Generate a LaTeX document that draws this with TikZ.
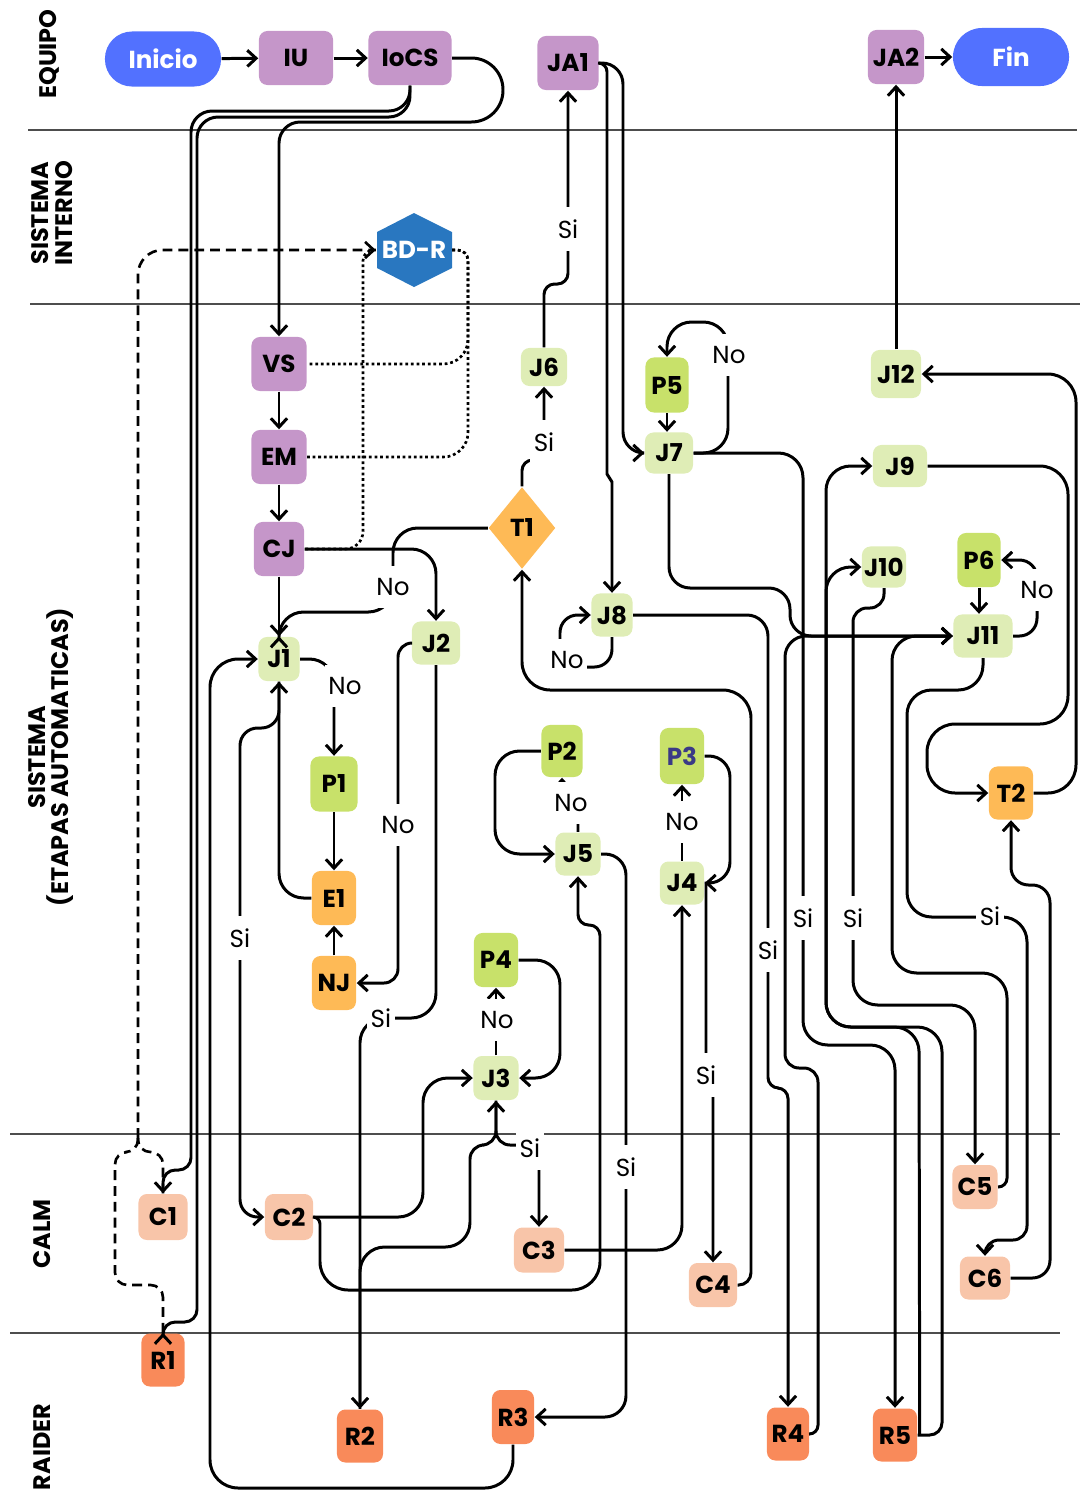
\documentclass[tikz,border=0pt]{standalone}
\usepackage{fontspec}
\setmainfont{Poppins}
\usetikzlibrary{arrows.meta,shapes.geometric}
\definecolor{inicioblue}{HTML}{5271FF}
\definecolor{equipolila}{HTML}{C596C9}
\definecolor{bdblue}{HTML}{2977C0}
\definecolor{jgreen}{HTML}{DFEDB6}
\definecolor{pgreen}{HTML}{C8E16A}
\definecolor{torange}{HTML}{FEBA56}
\definecolor{calmpeach}{HTML}{F8C5A9}
\definecolor{raiderorange}{HTML}{F98A5A}
\definecolor{pnavy}{HTML}{3B3A86}
\definecolor{lanegray}{HTML}{4D4D4D}
\tikzset{
  etapa/.style={rectangle,rounded corners=2.4pt,inner sep=0pt,fill=#1,text=black,
    font=\fontsize{7}{8}\selectfont\bfseries,minimum width=0.44cm,minimum height=0.54cm},
  etapa/.default={jgreen},
  lbox/.style={etapa=equipolila,minimum width=0.55cm},
  jbox/.style={etapa=jgreen,minimum width=0.45cm,minimum height=0.43cm},
  pbox/.style={etapa=pgreen},
  tbox/.style={etapa=torange},
  cbox/.style={etapa=calmpeach,minimum width=0.48cm,minimum height=0.45cm},
  rbox/.style={etapa=raiderorange,minimum height=0.53cm},
  terminal/.style={rectangle,rounded corners=0.27cm,fill=inicioblue,text=white,
    font=\fontsize{7}{8}\selectfont\bfseries,minimum width=1.16cm,minimum height=0.55cm},
  flecha/.style={-{Straight Barb[length=2.5pt,width=4.6pt]}},
  myarrow/.style={flecha,line width=0.85pt,rounded corners=#1},
  myarrow/.default={6pt},
  arrlabel/.style={font=\fontsize{7}{8}\selectfont,fill=white,inner xsep=1pt,inner ysep=3.5pt},
}
\begin{document}
\begin{tikzpicture}[x=0.01cm,y=-0.01cm,
  carril/.style={line width=0.5pt,draw=lanegray},
  carriltitle/.style={rotate=90,align=center,font=\fontsize{6.8}{6.6}\selectfont\bfseries},
  decision/.style={diamond,fill=torange,inner sep=0pt,minimum width=0.67cm,minimum height=0.82cm,
    font=\fontsize{7}{8}\selectfont\bfseries},
  dashlink/.style={line width=0.75pt,dash pattern=on 2.8pt off 1.7pt,rounded corners=3.5pt},
  dotlink/.style={line width=0.75pt,dash pattern=on 0.8pt off 0.8pt},
]
  \useasboundingbox (0,0) rectangle (1080,1493);
  \draw[carril] (28,130) -- (1077,130);
  \draw[carril] (30,304) -- (1080,304);
  \draw[carril] (10,1134) -- (1060,1134);
  \draw[carril] (10,1333) -- (1060,1333);
  \node[carriltitle] (tequipo) at (49,54) {EQUIPO};
  \node[carriltitle] (tinterno) at (52,213) {SISTEMA\\INTERNO};
  \node[carriltitle] (tetapas) at (51,757) {SISTEMA\\(ETAPAS AUTOMATICAS)};
  \node[carriltitle] (tcalm) at (42,1234) {CALM};
  \node[carriltitle] (traider) at (42,1447) {RAIDER};

  \node[terminal] (inicio) at (163,59) {Inicio};
  \node[lbox,minimum width=0.74cm] (iu) at (296,58) {IU};
  \node[lbox,minimum width=0.83cm] (iocs) at (410,58) {IoCS};
  \node[lbox,minimum width=0.61cm] (ja1) at (568,63) {JA1};
  \node[lbox,minimum width=0.56cm] (ja2) at (896,57) {JA2};
  \node[terminal,minimum height=0.58cm,rounded corners=0.29cm] (fin) at (1011,57) {Fin};

  \fill[bdblue] (414,213) -- (452,232) -- (452,268) -- (414,287) -- (377,268) -- (377,232) -- cycle;
  \node[font=\fontsize{7}{8}\selectfont\bfseries,text=white,inner sep=0pt,
    minimum width=0.75cm,minimum height=0.74cm] (bdr) at (414,250) {BD-R};

  \node[lbox] (vs) at (279,364) {VS};
  \node[lbox] (em) at (279,457) {EM};
  \node[lbox,minimum width=0.5cm] (cj) at (279,549) {CJ};
  \node[jbox,minimum width=0.41cm,minimum height=0.44cm] (j1) at (279,659) {J1};
  \node[pbox,minimum width=0.47cm,minimum height=0.55cm] (p1) at (334,784) {P1};
  \node[tbox] (e1) at (334,898) {E1};
  \node[tbox] (nj) at (334,983) {NJ};
  \node[jbox,minimum width=0.48cm] (j2) at (436,643) {J2};
  \node[decision] (t1) at (522,528) {T1};
  \node[jbox,minimum width=0.46cm,minimum height=0.38cm] (j6) at (544,367) {J6};
  \node[pbox,minimum width=0.43cm,minimum height=0.55cm] (p5) at (667,385) {P5};
  \node[jbox,minimum width=0.48cm,minimum height=0.41cm] (j7) at (669,453) {J7};
  \node[jbox,minimum width=0.41cm] (j8) at (612,615) {J8};
  \node[pbox,minimum width=0.41cm,minimum height=0.52cm] (p2) at (562,751) {P2};
  \node[jbox] (j5) at (578,854) {J5};
  \node[pbox,text=pnavy,minimum height=0.56cm] (p3) at (682,756) {P3};
  \node[jbox,minimum width=0.44cm] (j4) at (682,883) {J4};
  \node[pbox] (p4) at (496,960) {P4};
  \node[jbox,minimum height=0.44cm] (j3) at (496,1078) {J3};
  \node[jbox,minimum width=0.5cm,minimum height=0.48cm] (j12) at (896,374) {J12};
  \node[jbox,minimum width=0.54cm,minimum height=0.42cm] (j9) at (900,466) {J9};
  \node[jbox,minimum width=0.44cm,minimum height=0.41cm] (j10) at (884,567) {J10};
  \node[pbox,minimum width=0.43cm] (p6) at (979,560) {P6};
  \node[jbox,minimum width=0.59cm] (j11) at (983,636) {J11};
  \node[tbox,minimum height=0.53cm] (t2) at (1011,793) {T2};
  \node[cbox,minimum width=0.49cm,minimum height=0.46cm] (c1) at (163,1217) {C1};
  \node[cbox,minimum height=0.46cm] (c2) at (289,1217) {C2};
  \node[cbox,minimum width=0.5cm] (c3) at (539,1250) {C3};
  \node[cbox,minimum height=0.44cm] (c4) at (713,1285) {C4};
  \node[cbox,minimum width=0.45cm,minimum height=0.44cm] (c5) at (975,1187) {C5};
  \node[cbox,minimum width=0.5cm,minimum height=0.43cm] (c6) at (985,1278) {C6};
  \node[rbox,minimum width=0.43cm] (r1) at (163,1360) {R1};
  \node[rbox,minimum width=0.46cm] (r2) at (360,1436) {R2};
  \node[rbox,minimum width=0.42cm,minimum height=0.54cm] (r3) at (513,1417) {R3};
  \node[rbox,minimum width=0.42cm] (r4) at (788,1434) {R4};
  \node[rbox] (r5) at (895,1435) {R5};

  \draw[myarrow] (inicio) -- (iu);
  \draw[myarrow] (iu) -- (iocs);
  \draw[myarrow] (ja2) -- (fin);
  \draw[myarrow=9pt] (iocs.east) -- (503,58) -- (503,122) [rounded corners=6pt] -- (279,122) -- (vs.north);
  \draw[myarrow] (iocs.south) -- (410,111) -- (191,111) [rounded corners=3.5pt] -- (191,1170) -- (163,1170) -- (c1.north);
  \draw[myarrow] (iocs.south) -- (410,117) -- (197,117) [rounded corners=3.5pt] -- (197,1322) -- (163,1322) -- (r1.north);

  \coordinate (split) at (138,1138);
  \draw[dashlink,flecha] (split) [rounded corners=7pt] -- (138,250) -- (bdr.west);
  \draw[dashlink] (c1.north) -- (163,1152) -- (138,1152) -- (split);
  \draw[dashlink] (r1.north) -- (163,1285) -- (115,1285) -- (115,1152) -- (138,1152) -- (split);
  \draw[dotlink,rounded corners=3pt] (bdr.east) -- (468,250) [rounded corners=7pt] -- (468,364) -- (vs.east);
  \draw[dotlink,rounded corners=3pt] (bdr.east) -- (468,250) [rounded corners=7pt] -- (468,457) -- (em.east);
  \draw[dotlink,rounded corners=3pt] (bdr.west) -- (363,250) [rounded corners=5pt] -- (363,549) -- (cj.east);

  \draw[myarrow] (vs) -- (em);
  \draw[myarrow] (em) -- (cj);
  \draw[myarrow] (cj) -- (j1);
  \draw[myarrow=7pt] (cj.east) -| (j2.north);
  \draw[myarrow=7pt] (t1.west) -- (393,528) -- (393,612) -- (279,612) -- (j1.north);
  \draw[myarrow=3pt] (t1.north) -- (522,460) -- (544,460) -- (j6.south);
  \draw[myarrow=3pt] (j6.north) -- (544,284) -- (568,284) -- (ja1.south);
  \draw[myarrow=2.5pt] (ja1.east) -- (607,63) [sharp corners] -- (607,474) -- (612,482) -- (j8.north);
  \draw[myarrow] (ja1.east) -- (623,63) -- (623,453) -- (j7.west);
  \draw[myarrow=7pt] (j7.east) -- (728,453) -- (728,322) -- (667,322) -- (p5.north);
  \draw[myarrow] (p5.south) -- (p5.south |- j7.north);
  \draw[myarrow=6pt] (j7.south) -- (669,588) -- (790,588) -- (790,636) -- (j11.west);
  \draw[myarrow=7pt] (j7.east) -- (803,453) -- (803,1045) -- (895,1045) -- (r5.north);
  \draw[myarrow=5pt] (j8.south) -- (612,667) -- (560,667) -- (560,615) -- (j8.west);
  \draw[myarrow=6pt] (j8.east) -- (768,615) [rounded corners=3pt] -- (768,1088) -- (788,1088) -- (r4.north);
  \draw[myarrow=3.5pt] (c4.east) -- (751,1285) [rounded corners=8pt] -- (751,690) -- (522,690) -- (t1.south);

  \draw[myarrow=7pt] (j1.east) -| (p1.north);
  \draw[myarrow] (p1) -- (e1);
  \draw[myarrow] (nj) -- (e1);
  \draw[myarrow=7pt] (e1.west) -| (j1.south);
  \draw[myarrow=5pt] (j1.south) -- (279,728) -- (240,728) -- (240,1217) -- (c2.west);
  \draw[myarrow=8pt] (r3.south) -- (513,1488) -- (210,1488) -- (210,659) -- (j1.west);
  \draw[myarrow=4pt] (j2.west) -- (398,643) -- (398,983) -- (nj.east);
  \draw[myarrow=7pt] (j2.south) -- (436,1018) -- (360,1018) -- (r2.north);
  \draw[myarrow=7pt] (r2.north) -- (360,1247) -- (470,1247) [rounded corners=4pt] -- (470,1145) -- (496,1145) -- (j3.south);
  \draw[myarrow=4pt] (j3.south) -- (496,1145) -- (539,1145) -- (c3.north);
  \draw[myarrow] (j3) -- (p4);
  \draw[myarrow=7pt] (p4.east) -- (560,960) -- (560,1078) -- (j3.east);
  \draw[myarrow=7pt] (c2.east) -- (423,1217) -- (423,1078) -- (j3.west);
  \draw[myarrow=2pt] (c2.east) -- (320,1217) [rounded corners=8pt] -- (320,1290) -- (600,1290) [rounded corners=3pt] -- (600,925) -- (578,925) -- (j5.south);
  \draw[myarrow=6pt] (j5.east) -- (626,854) -- (626,1417) -- (r3.east);
  \draw[myarrow,sharp corners] (j5.north) -- (578,815) -- (562,792) -- (p2.south);
  \draw[myarrow=7pt] (p2.west) -- (495,751) -- (495,854) -- (j5.west);
  \draw[myarrow] (j4) -- (p3);
  \draw[myarrow=6pt] (p3.east) -- (730,756) -- (730,883) -- (j4.east);
  \draw[myarrow,sharp corners] (j4.east) -- (706,883) -- (706,1062) -- (713,1090) -- (c4.north);
  \draw[myarrow=7pt] (c3.east) -| (j4.south);

  \draw[myarrow=8pt] (t2.east) -- (1076,793) -- (1076,374) -- (j12.east);
  \draw[myarrow] (j12) -- (ja2);
  \draw[myarrow=8pt] (j9.east) -- (1068,466) -- (1068,724) -- (927,724) -- (927,793) -- (t2.west);
  \draw[myarrow=5pt] (c6.east) -- (1050,1278) -- (1050,885) -- (1011,885) -- (t2.south);
  \draw[myarrow=5pt] (j11.east) -- (1037,636) -- (1037,560) -- (p6.east);
  \draw[myarrow] (p6.south) -- (p6.south |- j11.north);
  \draw[myarrow=7pt] (j11.south) -- (983,690) -- (907,690) -- (907,917) -- (1027,917) [rounded corners=4pt] -- (1027,1240) -- (985,1240) -- (c6.north);
  \draw[myarrow=2.5pt] (c5.east) -- (1007,1187) [rounded corners=7pt] -- (1007,973) -- (892,973) -- (892,636) -- (j11.west);
  \draw[myarrow=4pt] (j10.south) -- (884,608) -- (853,608) [rounded corners=7pt] -- (853,1005) -- (975,1005) -- (c5.north);
  \draw[myarrow=2.5pt] (r4.east) -- (818,1434) [rounded corners=4pt] -- (818,1068) -- (785,1068) [rounded corners=6pt] -- (785,636) -- (j11.west);
  \draw[myarrow=3.5pt] (r5.east) -- (942,1435) [rounded corners=7pt] -- (942,1027) -- (826,1027) -- (826,466) -- (j9.west);
  \draw[myarrow=7pt] ([xshift=0.02cm]r5.east) -- (919,1027) -- (826,1027) -- (826,567) -- (j10.west);

  \node[arrlabel] (no1) at (393,587) {No};
  \node[arrlabel] (si1) at (544,442) {Si};
  \node[arrlabel] (si2) at (568,229) {Si};
  \node[arrlabel] (no2) at (729,355) {No};
  \node[arrlabel] (no3) at (567,660) {No};
  \node[arrlabel] (no4) at (345,686) {No};
  \node[arrlabel] (si3) at (240,938) {Si};
  \node[arrlabel] (no5) at (398,825) {No};
  \node[arrlabel] (si4) at (381,1018) {Si};
  \node[arrlabel] (no6) at (571,803) {No};
  \node[arrlabel] (no7) at (682,822) {No};
  \node[arrlabel] (no8) at (497,1020) {No};
  \node[arrlabel] (si5) at (530,1148) {Si};
  \node[arrlabel] (si6) at (626,1167) {Si};
  \node[arrlabel] (si7) at (706,1075) {Si};
  \node[arrlabel] (si8) at (768,950) {Si};
  \node[arrlabel] (si9) at (803,918) {Si};
  \node[arrlabel] (si10) at (853,918) {Si};
  \node[arrlabel] (si11) at (990,916) {Si};
  \node[arrlabel] (no9) at (1037,590) {No};
\end{tikzpicture}
\end{document}
